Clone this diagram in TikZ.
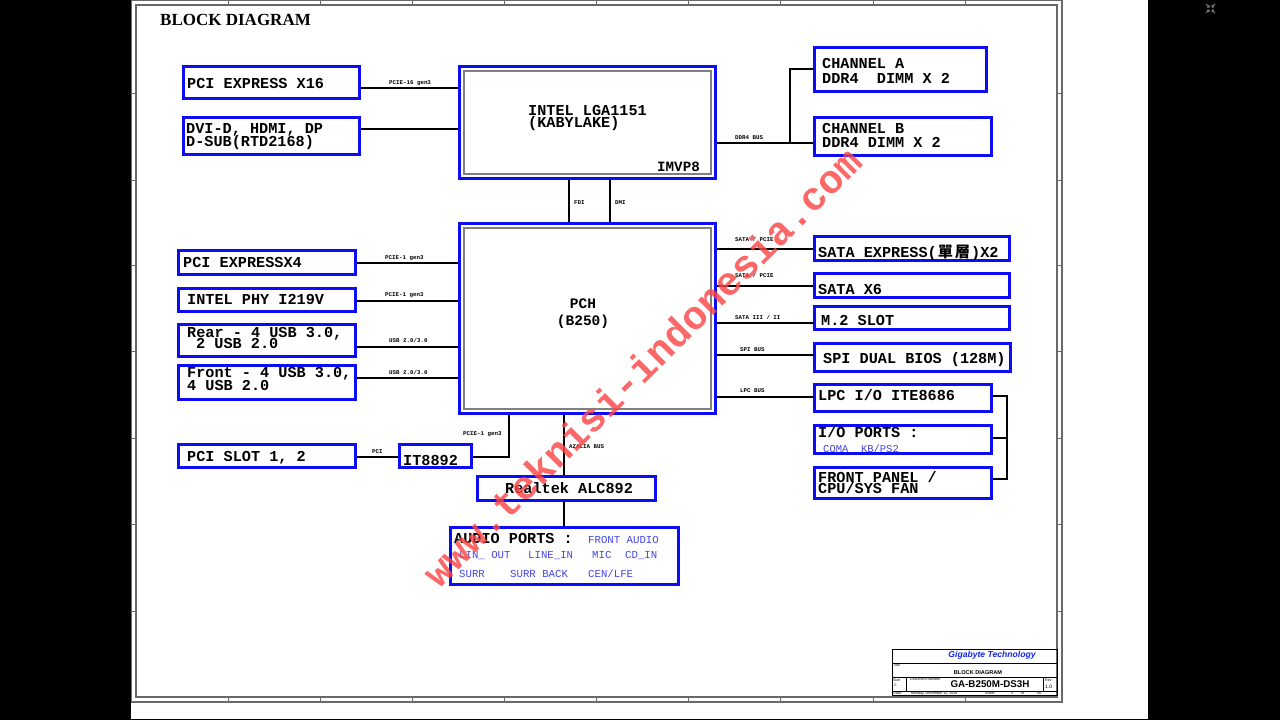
\documentclass[tikz,border=0pt]{standalone}
\usepackage{fontspec}
\setmainfont{Liberation Serif}
\setmonofont{Liberation Mono}
\setsansfont{Liberation Sans}
\newfontfamily\cjk{Noto Sans CJK TC}
\usetikzlibrary{calc}
\pgfdeclarelayer{page}
\pgfdeclarelayer{wires}
\pgfsetlayers{page,wires,main}
\definecolor{bxblue}{RGB}{12,12,245}
\definecolor{ltblue}{RGB}{70,70,230}
\definecolor{wmred}{RGB}{252,70,70}
\definecolor{framegray}{RGB}{105,105,105}
\definecolor{gigablue}{RGB}{20,40,230}
\tikzset{
  box/.style={draw=bxblue, line width=2.8pt, rectangle, inner sep=0pt, outer sep=0pt, anchor=north west},
  innerframe/.style={draw=gray, line width=1.3pt},
  bt/.style={anchor=base west, inner sep=0pt, font=\ttfamily\bfseries\fontsize{15.2}{15}\selectfont},
  ct/.style={anchor=center, inner sep=0pt, font=\ttfamily\bfseries\fontsize{14.5}{15}\selectfont},
  lt/.style={anchor=base west, inner sep=0pt, text=ltblue, font=\ttfamily\fontsize{10.7}{11}\selectfont},
  bus/.style={anchor=base west, inner sep=0pt, font=\ttfamily\bfseries\fontsize{5.8}{6}\selectfont},
  wire/.style={draw=black, line width=2.9pt},
  tb/.style={draw=black, line width=0.8pt},
  tiny/.style={anchor=base west, inner sep=0pt, font=\sffamily\fontsize{3.6}{4}\selectfont},
  frm/.style={draw=framegray, line width=1.1pt},
  tick/.style={draw=framegray, line width=0.9pt}
}
\newcommand{\bx}[5]{\node[box, minimum width={#4pt-#2pt-2.8pt}, minimum height={#5pt-#3pt-2.8pt}] (#1) at ({#2+1.4},{#3+1.4}) {};}
\begin{document}
\begin{tikzpicture}[x=1pt,y=-1pt]
\useasboundingbox (0,0) rectangle (1280,720);
\begin{pgfonlayer}{page}
  \fill[black] (0,0) rectangle (1280,720);
  \fill[white] (131,0) rectangle (1148,719);
  % sheet frames
  \draw[frm] (131.5,0.6) rectangle (1062,702);
  \draw[frm] (136,5) rectangle (1057,697);
  \foreach \x in {228,320,412,504,596,688,780,873,965} {
    \draw[tick] (\x,0.6) -- (\x,5);
    \draw[tick] (\x,697) -- (\x,702);
  }
  \foreach \y in {93,180,265,351,438,524,611} {
    \draw[tick] (131.5,\y) -- (136,\y);
    \draw[tick] (1057,\y) -- (1062,\y);
  }
  % screen icon
  \draw[gray, line width=1pt] (1206,4) -- (1209,7) (1209,5) -- (1209,7) -- (1207,7);
  \draw[gray, line width=1pt] (1215,4) -- (1212,7) (1212,5) -- (1212,7) -- (1214,7);
  \draw[gray, line width=1pt] (1206,13) -- (1209,10) (1209,12) -- (1209,10) -- (1207,10);
  \draw[gray, line width=1pt] (1215,13) -- (1212,10) (1212,12) -- (1212,10) -- (1214,10);
\end{pgfonlayer}

% title
\node[anchor=base west, inner sep=0pt, font=\rmfamily\bfseries\fontsize{17}{17}\selectfont] (title) at (160,25) {BLOCK DIAGRAM};

% boxes
\bx{pcie16}{182}{65}{361}{100}
\bx{dvi}{182}{116}{361}{156}
\bx{cpu}{458}{65}{717}{180}
\bx{cha}{813}{46}{988}{93}
\bx{chb}{813}{116}{993}{157}
\bx{pch}{458}{222}{717}{415}
\bx{pcie4}{177}{249}{357}{276}
\bx{phy}{177}{287}{357}{313}
\bx{rear}{177}{323}{357}{358}
\bx{front}{177}{364}{357}{401}
\bx{pcislot}{177}{443}{357}{469}
\bx{it}{398}{443}{473}{469}
\bx{rt}{476}{475}{657}{502}
\bx{aud}{449}{526}{680}{586}
\bx{satae}{813}{235}{1011}{262}
\bx{sata6}{813}{272}{1011}{299}
\bx{m2}{813}{305}{1011}{331}
\bx{spi}{813}{342}{1012}{373}
\bx{lpc}{813}{383}{993}{413}
\bx{iop}{813}{424}{993}{455}
\bx{fp}{813}{466}{993}{500}

% inner grey frames of CPU and PCH
\draw[innerframe] ($(cpu.north west)+(4.5,4.5)$) rectangle ($(cpu.south east)+(-4.5,-4.5)$);
\draw[innerframe] ($(pch.north west)+(4.5,4.5)$) rectangle ($(pch.south east)+(-4.5,-4.5)$);

% box texts
\node[bt] (t1) at (187,88) {PCI EXPRESS X16};
\node[bt] (t2) at (186,133) {DVI-D, HDMI, DP};
\node[bt] (t3) at (186,146) {D-SUB(RTD2168)};
\node[bt] (t4) at (528,115) {INTEL LGA1151};
\node[bt] (t5) at (528,127) {(KABYLAKE)};
\node[bt, font=\ttfamily\bfseries\fontsize{14.2}{15}\selectfont] (t6) at (657,171) {IMVP8};
\node[bt] (t7) at (822,68) {CHANNEL A};
\node[bt] (t8) at (822,83) {DDR4\ \ DIMM X 2};
\node[bt] (t9) at (822,133) {CHANNEL B};
\node[bt] (t10) at (822,147) {DDR4 DIMM X 2};
\node[ct] (t11) at (583,304) {PCH};
\node[ct] (t12) at (583,322) {(B250)};
\node[bt] (t13) at (183,267) {PCI EXPRESSX4};
\node[bt] (t14) at (187,304) {INTEL PHY I219V};
\node[bt] (t15) at (187,337) {Rear - 4 USB 3.0,};
\node[bt] (t16) at (196,348) {2 USB 2.0};
\node[bt] (t17) at (187,377) {Front - 4 USB 3.0,};
\node[bt] (t18) at (187,390) {4 USB 2.0};
\node[bt] (t19) at (187,461) {PCI SLOT 1, 2};
\node[bt] (t20) at (403,465) {IT8892};
\node[bt] (t21) at (505,493) {Realtek ALC892};
\node[bt] (t22) at (454,543) {AUDIO PORTS :};
\node[lt] (t23) at (588,543) {FRONT AUDIO};
\node[lt] (t24) at (459,558) {LIN\_ OUT};
\node[lt] (t25) at (528,558) {LINE\_IN};
\node[lt] (t26) at (592,558) {MIC};
\node[lt] (t27) at (625,558) {CD\_IN};
\node[lt] (t28) at (459,577) {SURR};
\node[lt] (t29) at (510,577) {SURR BACK};
\node[lt] (t30) at (588,577) {CEN/LFE};
\node[bt] (t31) at (818,257) {SATA EXPRESS({\cjk\kern1pt 單\kern2pt 層\kern1pt})X2};
\node[bt] (t32) at (818,294) {SATA X6};
\node[bt] (t33) at (821,325) {M.2 SLOT};
\node[bt] (t34) at (823,363) {SPI DUAL BIOS (128M)};
\node[bt] (t35) at (818,400) {LPC I/O ITE8686};
\node[bt] (t36) at (818,437) {I/O PORTS :};
\node[lt, font=\ttfamily\fontsize{10.5}{11}\selectfont] (t37) at (823,452) {COMA\ \ KB/PS2};
\node[bt] (t38) at (818,482) {FRONT PANEL /};
\node[bt] (t39) at (818,493) {CPU/SYS FAN};

% bus labels
\node[bus] (b1) at (389,84) {PCIE-16 gen3};
\node[bus] (b2) at (735,139) {DDR4 BUS};
\node[bus] (b3) at (574,204) {FDI};
\node[bus] (b4) at (615,204) {DMI};
\node[bus] (b5) at (735,241) {SATA / PCIE};
\node[bus] (b6) at (735,277) {SATA / PCIE};
\node[bus] (b7) at (735,319) {SATA III / II};
\node[bus] (b8) at (740,351) {SPI BUS};
\node[bus] (b9) at (740,392) {LPC BUS};
\node[bus] (b10) at (385,259) {PCIE-1 gen3};
\node[bus] (b11) at (385,296) {PCIE-1 gen3};
\node[bus] (b12) at (389,342) {USB 2.0/3.0};
\node[bus] (b13) at (389,374) {USB 2.0/3.0};
\node[bus] (b14) at (372,453) {PCI};
\node[bus] (b15) at (463,435) {PCIE-1 gen3};
\node[bus] (b16) at (569,448) {AZALIA BUS};

% connectors
\coordinate (ddrj) at (790,143);
\coordinate (lpcj) at (1007,438);
\begin{pgfonlayer}{wires}
  \draw[wire] (pcie16.east |- 0,88) -- (cpu.west |- 0,88);
  \draw[wire] (dvi.east |- 0,129) -- (cpu.west |- 0,129);
  \draw[wire] (cpu.east |- ddrj) -- (chb.west |- ddrj);
  \draw[wire] (ddrj) |- (cha.west |- 0,69);
  \draw[wire] (cpu.south -| 569,0) -- (pch.north -| 569,0);
  \draw[wire] (cpu.south -| 610,0) -- (pch.north -| 610,0);
  \draw[wire] (pcie4.east |- 0,263) -- (pch.west |- 0,263);
  \draw[wire] (phy.east |- 0,301) -- (pch.west |- 0,301);
  \draw[wire] (rear.east |- 0,347) -- (pch.west |- 0,347);
  \draw[wire] (front.east |- 0,378) -- (pch.west |- 0,378);
  \draw[wire] (pch.east |- 0,249) -- (satae.west |- 0,249);
  \draw[wire] (pch.east |- 0,286) -- (sata6.west |- 0,286);
  \draw[wire] (pch.east |- 0,323) -- (m2.west |- 0,323);
  \draw[wire] (pch.east |- 0,355) -- (spi.west |- 0,355);
  \draw[wire] (pch.east |- 0,397) -- (lpc.west |- 0,397);
  \draw[wire] (lpc.east |- 0,396) -| (lpcj) |- (fp.east |- 0,479);
  \draw[wire] (iop.east |- lpcj) -- (lpcj);
  \draw[wire] (pcislot.east |- 0,457) -- (it.west |- 0,457);
  \draw[wire] (it.east |- 0,457) -| (pch.south -| 509,0);
  \draw[wire] (pch.south -| 564,0) -- (rt.north -| 564,0);
  \draw[wire] (rt.south -| 564,0) -- (aud.north -| 564,0);
\end{pgfonlayer}

% title block
\draw[tb] (892,649) rectangle (1057,695);
\draw[tb] (892,663) -- (1057,663);
\draw[tb] (892,677) -- (1057,677);
\draw[tb] (892,691) -- (1057,691);
\draw[tb] (906,677) -- (906,691);
\draw[tb] (1043,677) -- (1043,691);
\node[inner sep=0pt, text=gigablue, font=\sffamily\bfseries\itshape\fontsize{8.6}{9}\selectfont] (tbco) at (992,655.5) {Gigabyte Technology};
\node[tiny] (tbt) at (893,666.5) {Title};
\node[inner sep=0pt, font=\sffamily\bfseries\fontsize{5.6}{6}\selectfont] (tbn) at (978,672.5) {BLOCK DIAGRAM};
\node[tiny] (tbs) at (893,681) {Size};
\node[tiny] (tbc) at (894,686) {C};
\node[tiny] (tbd) at (910,680.5) {Document Number};
\node[inner sep=0pt, font=\sffamily\bfseries\fontsize{9.8}{10}\selectfont] (tbnum) at (990,684.5) {GA-B250M-DS3H};
\node[tiny] (tbr) at (1045,681) {Rev};
\node[tiny, font=\sffamily\fontsize{5}{5}\selectfont] (tbrv) at (1045,688) {1.0};
\node[tiny] (tbdt) at (893,694.3) {Date:};
\node[tiny] (tbdd) at (911,694.3) {Monday, December 12, 2016};
\node[tiny] (tbsh) at (985,694.3) {Sheet};
\node[tiny] (tbs3) at (1011,694.3) {3};
\node[tiny] (tbof) at (1021,694.3) {of};
\node[tiny] (tb50) at (1037,694.3) {50};

% watermark
\node[rotate=45, inner sep=0pt, text=wmred, opacity=0.82, font=\ttfamily\bfseries\fontsize{40}{40}\selectfont] (wm) at (642,367) {www.teknisi-indonesia.com};
\end{tikzpicture}
\end{document}
